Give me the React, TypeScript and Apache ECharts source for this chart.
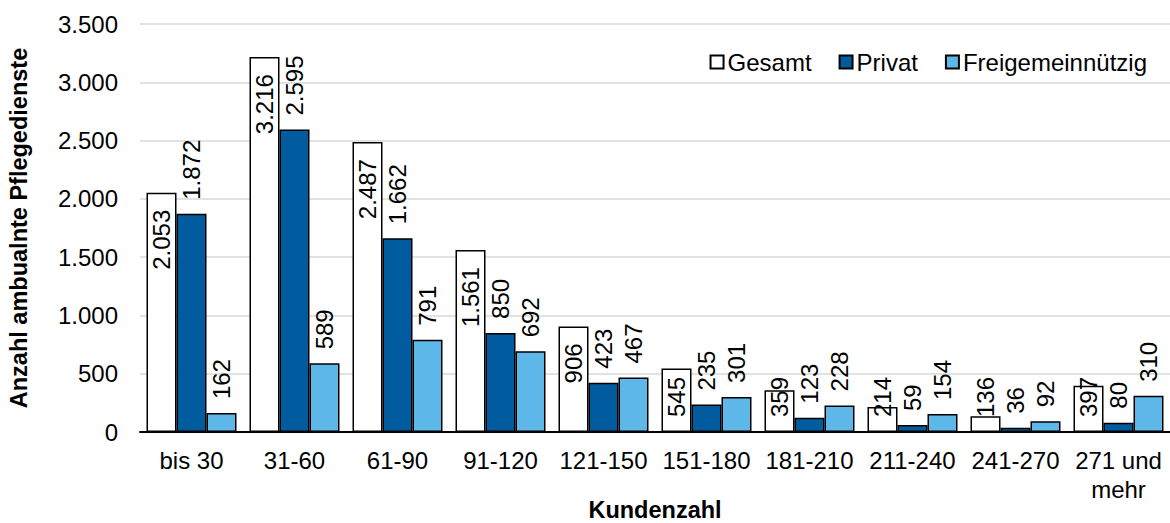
import React, { useEffect, useRef } from "react";
import * as echarts from "echarts";

const categories = ["bis 30", "31-60", "61-90", "91-120", "121-150", "151-180", "181-210", "211-240", "241-270", "271 und\nmehr"];
const gesamt = [2053, 3216, 2487, 1561, 906, 545, 359, 214, 136, 397];
const privat = [1872, 2595, 1662, 850, 423, 235, 123, 59, 36, 80];
const freigemeinnuetzig = [162, 589, 791, 692, 467, 301, 228, 154, 92, 310];
const yTicks = { min: 0, max: 3500, interval: 500 };

const FONT = "'Liberation Sans', Arial, sans-serif";
const FS = 24;

function fmt(v: number): string {
  const s = String(Math.round(v));
  return s.replace(/\B(?=(\d{3})+(?!\d))/g, ".");
}

export default function App() {
  const ref = useRef<HTMLDivElement>(null);
  useEffect(() => {
    document.body.style.margin = "0";
    if (!ref.current) return;
    const chart = echarts.init(ref.current, null, { renderer: "svg" });
    const topLabel = {
      show: true,
      position: "top",
      rotate: 90,
      align: "left",
      verticalAlign: "middle",
      distance: 14,
      fontSize: FS,
      fontFamily: FONT,
      color: "#000",
      formatter: (p: any) => fmt(p.value),
    };
    const gesamtData = gesamt.map((v) =>
      v < 600
        ? {
            value: v,
            label: { position: "insideBottom", align: "left", distance: 15 },
          }
        : { value: v }
    );
    const barStyle = (c: string) => ({ color: c, borderColor: "#000", borderWidth: 1.5 });
    chart.setOption({
      animation: false,
      textStyle: { fontFamily: FONT },
      grid: { left: 140, right: 0, top: 24, bottom: 91, containLabel: false, outerBoundsMode: "none" },
      legend: {
        right: 18,
        top: 45,
        itemWidth: 13,
        itemHeight: 13,
        itemGap: 27,
        icon: "rect",
        textStyle: { fontSize: FS, fontFamily: FONT, color: "#000", padding: [0, 0, 0, -1] },
        data: ["Gesamt", "Privat", "Freigemeinnützig"],
      },
      xAxis: {
        type: "category",
        data: categories,
        name: "Kundenzahl",
        nameLocation: "middle",
        nameGap: 66,
        nameMoveOverlap: false,
        nameTextStyle: { fontSize: 23.5, fontWeight: "bold", color: "#000", fontFamily: FONT },
        axisLine: { lineStyle: { color: "#000", width: 2 } },
        axisTick: { show: false },
        axisLabel: { fontSize: FS, color: "#000", fontFamily: FONT, margin: 14, lineHeight: 29, interval: 0 },
      },
      yAxis: {
        type: "value",
        min: yTicks.min,
        max: yTicks.max,
        interval: yTicks.interval,
        name: "Anzahl ambualnte Pflegedienste",
        nameLocation: "middle",
        nameGap: 109,
        nameMoveOverlap: false,
        nameTextStyle: { fontSize: 23.5, fontWeight: "bold", color: "#000", fontFamily: FONT },
        axisLine: { show: false },
        axisTick: { show: false },
        axisLabel: { fontSize: FS, color: "#000", fontFamily: FONT, margin: 22, formatter: (v: number) => fmt(v) },
        splitLine: { lineStyle: { color: "#d9d9d9", width: 1.5 } },
      },
      series: [
        {
          name: "Gesamt",
          type: "bar",
          data: gesamtData,
          barWidth: 30,
          barGap: "0%",
          barCategoryGap: "12.6%",
          itemStyle: barStyle("#ffffff"),
          label: {
            show: true,
            position: "insideTop",
            rotate: 90,
            align: "right",
            verticalAlign: "middle",
            distance: 17,
            fontSize: FS,
            fontFamily: FONT,
            color: "#000",
            formatter: (p: any) => fmt(p.value),
          },
        },
        {
          name: "Privat",
          type: "bar",
          data: privat,
          barWidth: 30,
          barGap: "0%",
          itemStyle: barStyle("#005c9e"),
          label: topLabel,
        },
        {
          name: "Freigemeinnützig",
          type: "bar",
          data: freigemeinnuetzig,
          barWidth: 30,
          barGap: "0%",
          itemStyle: barStyle("#5db7e8"),
          label: topLabel,
        },
      ],
    });
    return () => chart.dispose();
  }, []);
  return <div ref={ref} style={{ width: 1170, height: 523 }} />;
}
